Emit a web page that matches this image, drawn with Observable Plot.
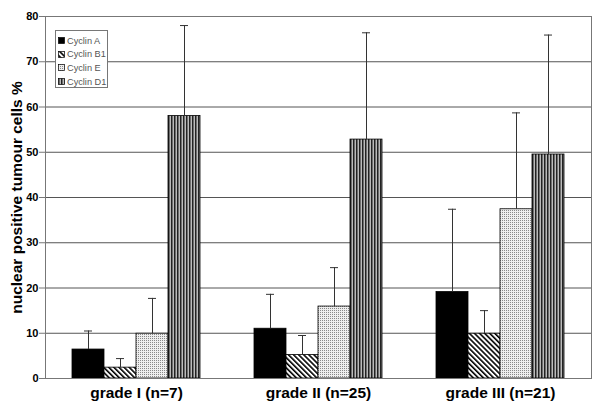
<!DOCTYPE html>
<html><head>
<meta charset="utf-8">
<script src="https://cdn.jsdelivr.net/npm/d3@7"></script>
<script src="https://cdn.jsdelivr.net/npm/@observablehq/plot@0.6"></script>
<style>
body{margin:0;background:#fff;font-family:"Liberation Sans",Arial,sans-serif;}
#wrap{position:relative;width:600px;height:410px;}
#legend{position:absolute;left:55px;top:30px;width:53px;height:58px;border:1px solid #777;background:#fff;box-sizing:border-box;padding-top:3px;}
#legend .row{display:flex;align-items:center;height:13.6px;font-size:9.2px;color:#555;padding-left:2px;white-space:nowrap;}
#legend .row svg{margin-right:1px;}
svg text{font-family:"Liberation Sans",Arial,sans-serif;}
</style>
</head><body>
<svg width="0" height="0" style="position:absolute">
<defs>
<pattern id="pB1" patternUnits="userSpaceOnUse" width="3.6" height="3.6" patternTransform="rotate(-45)">
<rect width="3.6" height="3.6" fill="#fff"/><rect width="1.6" height="3.6" fill="#000"/>
</pattern>
<pattern id="pE" patternUnits="userSpaceOnUse" width="2" height="2">
<rect width="2" height="2" fill="#eee"/><rect width="1" height="1" fill="#888"/>
</pattern>
<pattern id="pD1" patternUnits="userSpaceOnUse" width="3" height="3">
<rect width="3" height="3" fill="#bbb"/><rect width="1.5" height="3" fill="#222"/>
</pattern>
</defs>
</svg>
<div id="wrap"><div id="legend"></div></div>
<script>
const grades = ["grade I (n=7)", "grade II (n=25)", "grade III (n=21)"];
const cyclins = ["Cyclin A", "Cyclin B1", "Cyclin E", "Cyclin D1"];
// mean values per grade
const meanA  = [6.4, 11.0, 19.1];
const meanB1 = [2.4, 5.2, 9.9];
const meanE  = [9.9, 15.9, 37.4];
const meanD1 = [58.0, 52.8, 49.5];
// top of error bar (mean + SD)
const upperA  = [10.5, 18.6, 37.4];
const upperB1 = [4.4, 9.5, 15.0];
const upperE  = [17.7, 24.5, 58.7];
const upperD1 = [78.0, 76.4, 75.9];
const yTicks = [0, 10, 20, 30, 40, 50, 60, 70, 80];
const fills = ["#000", "url(#pB1)", "url(#pE)", "url(#pD1)"];

const means = [meanA, meanB1, meanE, meanD1];
const uppers = [upperA, upperB1, upperE, upperD1];
const rows = [];
grades.forEach((g, gi) => cyclins.forEach((c, ci) => rows.push({grade: g, cyclin: c, mean: means[ci][gi], upper: uppers[ci][gi]})));

const font = '"Liberation Sans", Arial, sans-serif';
const chart = Plot.plot({
  width: 600, height: 410,
  marginLeft: 45, marginRight: 9, marginTop: 16, marginBottom: 32,
  style: {fontFamily: font, fontWeight: "bold", color: "#000", background: "#fff", overflow: "visible"},
  fx: {domain: grades, padding: 0, label: null, axis: null},
  x: {domain: cyclins, paddingInner: 0, paddingOuter: 0.76, axis: null},
  y: {domain: [0, 80], axis: null},
  color: {domain: cyclins, range: fills},
  marks: [
    Plot.ruleY(yTicks, {stroke: "#555", strokeWidth: 1}),
    Plot.barY(rows, {fx: "grade", x: "cyclin", y: "mean", fill: "cyclin", stroke: "#000", strokeWidth: 0.8}),
    Plot.ruleX(rows, {fx: "grade", x: "cyclin", y1: "mean", y2: "upper", stroke: "#333"}),
    Plot.tickY(rows, {fx: "grade", x: "cyclin", y: "upper", stroke: "#333", insetLeft: 12, insetRight: 12}),
    Plot.frame({facet: "super", stroke: "#777"}),
    Plot.axisY(yTicks, {tickSize: 6, fontSize: 11, fontWeight: "bold", fontFamily: font, label: null, stroke: "#777", tickPadding: 1}),
    Plot.axisY({ticks: [], tickSize: 0, label: "nuclear positive tumour cells %", labelAnchor: "center", labelOffset: 35, fontSize: 15.5, fontWeight: "bold", fontFamily: font, labelArrow: false}),
    Plot.axisFx({anchor: "bottom", tickSize: 0, label: null, fontSize: 15.5, fontWeight: "bold", fontFamily: font, tickPadding: 8})
  ]
});
document.getElementById("wrap").prepend(chart);

const legend = document.getElementById("legend");
cyclins.forEach((c, i) => {
  const row = document.createElement("div");
  row.className = "row";
  row.innerHTML = `<svg width="8" height="7"><rect x="0.5" y="0.5" width="6" height="6" fill="${fills[i]}" stroke="#000" stroke-width="0.7"/></svg><span>${c}</span>`;
  legend.appendChild(row);
});
</script>
</body></html>
